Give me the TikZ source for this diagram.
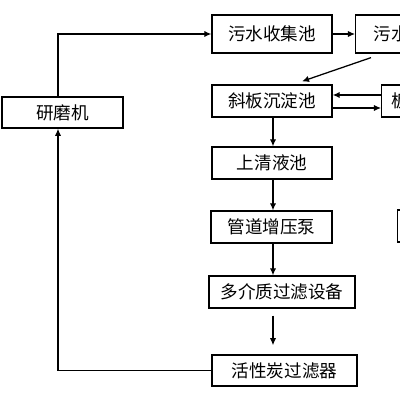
\documentclass[tikz,border=0pt]{standalone}
\usepackage{fontspec}
\newfontfamily\cjk{Noto Sans CJK SC}
\usetikzlibrary{arrows.meta,calc}

\tikzset{
  box/.style={draw, line width=0.9pt, minimum height=0.8cm, inner sep=0pt,
    font=\cjk\fontsize{12.5}{15}\selectfont},
  flow/.style={line width=0.9pt, -{Latex[length=5pt,width=4.5pt]}}
}

\begin{document}
\begin{tikzpicture}[x=0.025cm, y=-0.025cm]
        \useasboundingbox (0,0) rectangle (400,400);
        \clip (0,0) rectangle (400,400);

        % left machine and main line
        \node [box, minimum width=3.02cm, minimum height=0.78cm] (grind) at (62.5,112.5) {研磨机};
        \node [box, minimum width=3cm, minimum height=0.95cm] (collect) at (272,34) {污水收集池};
        \node [box, minimum width=3cm] (settle) at (272,101) {斜板沉淀池};
        \node [box, minimum width=3cm] (clear) at (272,163) {上清液池};
        \node [box, minimum width=3.02cm] (pump) at (271.5,227) {管道增压泵};
        \node [box, minimum width=3.65cm] (multi) at (282,292) {多介质过滤设备};
        \node [box, minimum width=3.62cm, minimum height=0.78cm] (carbon) at (284.5,370.5) {活性炭过滤器};

        % boxes cut by the right edge
        \node [box, anchor=west, minimum height=0.95cm, text width=2.5cm, inner xsep=0.45cm] (adjust) at (355,34) {污水};
        \node [box, anchor=west, text width=2.5cm, inner xsep=0.25cm] (press) at (381,101) {板};
        \node [box, anchor=west, minimum width=3cm] (side) at (397,226) {};

        \coordinate (loop) at (58,0);

        \draw [flow] (grind.north -| loop) |- (collect.west);
        \draw [flow] (collect.east) -- (adjust.west);
        \draw [flow] ($(adjust.south west)+(16,4)$) -- ($(settle.north)+(30,-3)$);
        \draw [flow] ($(press.west)+(0,-6)$) -- ($(settle.east)+(0,-6)$);
        \draw [flow] ($(settle.east)+(0,7)$) -- ($(press.west)+(0,7)$);
        \draw [flow] (settle.south -| 273,0) -- (clear.north -| 273,0);
        \draw [flow] (clear.south -| 273,0) -- (pump.north -| 273,0);
        \draw [flow] (pump.south -| 273,0) -- (multi.north -| 273,0);
        \draw [flow] ($(multi.south -| 273,0)+(0,7)$) -- ($(carbon.north -| 273,0)+(0,-9)$);
        \draw [flow] (carbon.west) -| (grind.south -| loop);

      \end{tikzpicture}
\end{document}
